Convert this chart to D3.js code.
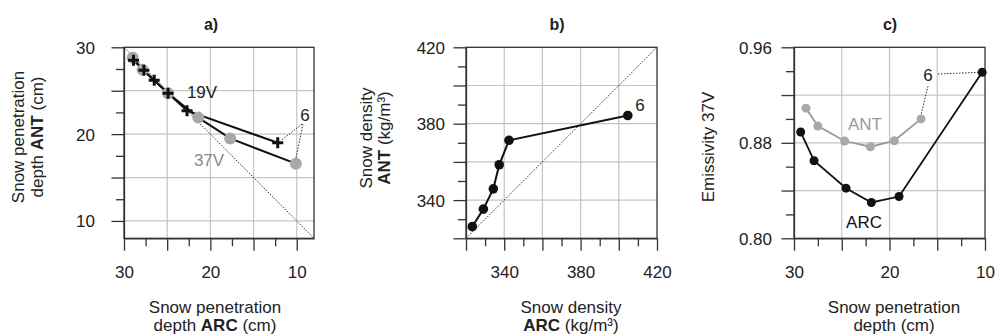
<!DOCTYPE html>
<html>
<head>
<meta charset="utf-8">
<script src="https://cdn.jsdelivr.net/npm/d3@7"></script>
<style>
body{margin:0;background:#fff;}
svg text{font-family:"Liberation Sans",Arial,sans-serif;}
</style>
</head>
<body>
<svg id="chart" width="995" height="336"></svg>
<script>
// ---- data ----
// panel a: penetration depth (cm), ARC (x) vs ANT (y)
const a19Arc = [28.9, 27.7, 26.5, 24.9, 22.7, 12.2];
const a19Ant = [28.5, 27.35, 26.2, 24.7, 22.7, 19.0];
const a37Arc = [29.0, 27.85, 24.9, 21.4, 17.7, 10.1];
const a37Ant = [28.8, 27.4, 24.7, 21.9, 19.5, 16.6];
// panel b: snow density (kg/m3)
const bArc = [323.3, 329.1, 334.3, 337.4, 342.5, 404.7];
const bAnt = [326.1, 335.3, 345.9, 358.5, 371.3, 384.3];
// panel c: emissivity 37V vs penetration depth
const cArcDepth = [29.3, 27.9, 24.55, 21.9, 19.0, 10.3];
const cArcEmis = [0.889, 0.865, 0.842, 0.830, 0.835, 0.939];
const cAntDepth = [28.75, 27.5, 24.7, 22.0, 19.5, 16.7];
const cAntEmis = [0.909, 0.894, 0.8815, 0.8767, 0.8817, 0.900];
// ticks
const aTicks = [30, 27.5, 25, 22.5, 20, 17.5, 15, 12.5, 10];
const aMajor = [30, 25, 20, 15, 10];
const aLabels = [30, 20, 10];
const bTicks = [320, 330, 340, 350, 360, 370, 380, 390, 400, 410, 420];
const bMajor = [320, 340, 360, 380, 400, 420];
const bLabels = [340, 380, 420];
const cXTicks = [30, 27.5, 25, 22.5, 20, 17.5, 15, 12.5, 10];
const cXMajor = [30, 25, 20, 15, 10];
const cXLabels = [30, 20, 10];
const cYTicks = [0.80, 0.82, 0.84, 0.86, 0.88, 0.90, 0.92, 0.94, 0.96];
const cYMajor = [0.80, 0.84, 0.88, 0.92, 0.96];
const cYLabels = [0.80, 0.88, 0.96];

const svg = d3.select("#chart");
const plotTop = 47.3, plotBottom = 238.3;
const GRID = "#c4c4c4", FRAME = "#333", GRAY = "#a8a8a8";

function panel(opt) {
  const x = d3.scaleLinear().domain(opt.xDom).range([opt.x0, opt.x1]);
  const y = d3.scaleLinear().domain(opt.yDom).range([plotBottom, plotTop]);
  const g = svg.append("g");
  g.selectAll(".gx").data(opt.xGrid).join("line")
    .attr("x1", d => x(d)).attr("x2", d => x(d)).attr("y1", plotTop).attr("y2", plotBottom)
    .attr("stroke", GRID).attr("stroke-width", 1.2);
  g.selectAll(".gy").data(opt.yGrid).join("line")
    .attr("y1", d => y(d)).attr("y2", d => y(d)).attr("x1", opt.x0).attr("x2", opt.x1)
    .attr("stroke", GRID).attr("stroke-width", 1.2);
  g.append("rect").attr("x", opt.x0).attr("y", plotTop).attr("width", opt.x1 - opt.x0).attr("height", plotBottom - plotTop)
    .attr("fill", "none").attr("stroke", FRAME).attr("stroke-width", 1.3);
  const fmtX = d => opt.xLab.includes(d) ? opt.xFmt(d) : "";
  const fmtY = d => opt.yLab.includes(d) ? opt.yFmt(d) : "";
  const isMaj = (arr, d) => arr.some(v => Math.abs(v - d) < 1e-9);
  const ax = g.append("g").attr("transform", `translate(0,${plotBottom})`)
    .call(d3.axisBottom(x).tickValues(opt.xTicks).tickFormat(fmtX).tickSizeOuter(0));
  ax.select(".domain").attr("stroke", FRAME).attr("stroke-width", 1.3);
  ax.selectAll(".tick line").attr("stroke", FRAME).attr("stroke-width", 1.3)
    .attr("y2", d => isMaj(opt.xMajor, d) ? 12.5 : 8);
  ax.selectAll(".tick text").attr("y", 39.5).attr("dy", 0)
    .attr("font-size", 17).attr("fill", "#222").attr("font-family", "Liberation Sans, Arial, sans-serif");
  const ay = g.append("g").attr("transform", `translate(${opt.x0},0)`)
    .call(d3.axisLeft(y).tickValues(opt.yTicks).tickFormat(fmtY).tickSizeOuter(0));
  ay.select(".domain").attr("stroke", FRAME).attr("stroke-width", 1.3);
  ay.selectAll(".tick line").attr("stroke", FRAME).attr("stroke-width", 1.3)
    .attr("x2", d => isMaj(opt.yMajor, d) ? -12.5 : -8);
  ay.selectAll(".tick text").attr("x", opt.yLabOff).attr("dy", "0.35em")
    .attr("font-size", 17).attr("fill", "#222").attr("font-family", "Liberation Sans, Arial, sans-serif");
  g.append("text").attr("x", opt.titleX).attr("y", 30).attr("text-anchor", "middle")
    .attr("font-size", 16).attr("font-weight", "bold").attr("fill", "#222").text(opt.title);
  return {x, y, g};
}

function textLines(g, x, ys, parts) {
  ys.forEach((yy, i) => {
    const t = g.append("text").attr("x", x).attr("y", yy).attr("text-anchor", "middle")
      .attr("font-size", 17).attr("fill", "#222");
    parts[i].forEach(p => t.append("tspan").attr("font-weight", p[1] ? "bold" : "normal").text(p[0]));
  });
}
function rotLines(g, cy, xs, parts) {
  xs.forEach((xx, i) => {
    const t = g.append("text").attr("transform", `translate(${xx},${cy}) rotate(-90)`)
      .attr("text-anchor", "middle").attr("font-size", 17).attr("fill", "#222");
    parts[i].forEach(p => t.append("tspan").attr("font-weight", p[1] ? "bold" : "normal").text(p[0]));
  });
}
const dotted = sel => sel.attr("stroke", "#333").attr("stroke-width", 1).attr("stroke-dasharray", "1.5,1.5").attr("fill", "none");
const lineGen = (sx, sy) => d3.line().x(d => sx(d[0])).y(d => sy(d[1]));

// ---------- panel a ----------
const A = panel({
  x0: 124, x1: 314, xDom: [30, 8], yDom: [8, 30],
  xGrid: [25, 20, 15, 10], yGrid: [25, 20, 15, 10],
  xTicks: aTicks, xMajor: aMajor, xLab: aLabels, xFmt: d3.format("d"),
  yTicks: aTicks, yMajor: aMajor, yLab: aLabels, yFmt: d3.format("d"),
  yLabOff: -29, title: "a)", titleX: 211
});
A.g.append("line").attr("x1", A.x(30)).attr("y1", A.y(30)).attr("x2", A.x(8)).attr("y2", A.y(8)).call(dotted);
const a37 = a37Arc.map((v, i) => [v, a37Ant[i]]);
const a19 = a19Arc.map((v, i) => [v, a19Ant[i]]);
A.g.append("path").datum(a37).attr("d", lineGen(A.x, A.y)).attr("fill", "none").attr("stroke", "#111").attr("stroke-width", 2);
A.g.append("path").datum(a19).attr("d", lineGen(A.x, A.y)).attr("fill", "none").attr("stroke", "#111").attr("stroke-width", 2);
A.g.selectAll(".c37").data(a37).join("circle").attr("cx", d => A.x(d[0])).attr("cy", d => A.y(d[1]))
  .attr("r", 6).attr("fill", GRAY);
A.g.selectAll(".p19").data(a19).join("path")
  .attr("d", d => { const cx = A.x(d[0]), cy = A.y(d[1]), s = 5.5; return `M${cx - s},${cy}H${cx + s}M${cx},${cy - s}V${cy + s}`; })
  .attr("stroke", "#111").attr("stroke-width", 3);
A.g.append("text").attr("x", 202).attr("y", 97.5).attr("text-anchor", "middle").attr("font-size", 17).attr("fill", "#222").text("19V");
A.g.append("text").attr("x", 209).attr("y", 166).attr("text-anchor", "middle").attr("font-size", 17).attr("fill", "#8a8a8a").text("37V");
A.g.append("text").attr("x", 305).attr("y", 121).attr("text-anchor", "middle").attr("font-size", 17).attr("fill", "#222").text("6");
A.g.append("line").attr("x1", 302).attr("y1", 124).attr("x2", A.x(a19Arc[5]) + 3).attr("y2", A.y(a19Ant[5]) - 2).call(dotted);
A.g.append("line").attr("x1", 303).attr("y1", 124).attr("x2", A.x(a37Arc[5])).attr("y2", A.y(a37Ant[5]) - 5).call(dotted);
textLines(A.g, 215, [313, 331], [[["Snow penetration", false]], [["depth ", false], ["ARC", true], [" (cm)", false]]]);
rotLines(A.g, 137, [24, 43], [[["Snow penetration", false]], [["depth ", false], ["ANT", true], [" (cm)", false]]]);

// ---------- panel b ----------
const B = panel({
  x0: 466, x1: 657, xDom: [320, 420], yDom: [320, 420],
  xGrid: [340, 360, 380, 400], yGrid: [340, 360, 380, 400],
  xTicks: bTicks, xMajor: bMajor, xLab: bLabels, xFmt: d3.format("d"),
  yTicks: bTicks, yMajor: bMajor, yLab: bLabels, yFmt: d3.format("d"),
  yLabOff: -21, title: "b)", titleX: 557
});
B.g.append("line").attr("x1", B.x(320)).attr("y1", B.y(320)).attr("x2", B.x(420)).attr("y2", B.y(420)).call(dotted);
const bPts = bArc.map((v, i) => [v, bAnt[i]]);
B.g.append("path").datum(bPts).attr("d", lineGen(B.x, B.y)).attr("fill", "none").attr("stroke", "#111").attr("stroke-width", 2);
B.g.selectAll(".pb").data(bPts).join("circle").attr("cx", d => B.x(d[0])).attr("cy", d => B.y(d[1])).attr("r", 4.8).attr("fill", "#111");
B.g.append("text").attr("x", 640).attr("y", 111).attr("text-anchor", "middle").attr("font-size", 17).attr("fill", "#222").text("6");
textLines(B.g, 571, [313, 331], [[["Snow density", false]], [["ARC", true], [" (kg/m³)", false]]]);
rotLines(B.g, 138, [372, 390], [[["Snow density", false]], [["ANT", true], [" (kg/m³)", false]]]);

// ---------- panel c ----------
const C = panel({
  x0: 794, x1: 985, xDom: [30, 10], yDom: [0.80, 0.96],
  xGrid: [25, 20, 15], yGrid: [0.84, 0.88, 0.92],
  xTicks: cXTicks, xMajor: cXMajor, xLab: cXLabels, xFmt: d3.format("d"),
  yTicks: cYTicks, yMajor: cYMajor, yLab: cYLabels, yFmt: d3.format(".2f"),
  yLabOff: -22, title: "c)", titleX: 890
});
const cAnt = cAntDepth.map((v, i) => [v, cAntEmis[i]]);
const cArc = cArcDepth.map((v, i) => [v, cArcEmis[i]]);
C.g.append("path").datum(cAnt).attr("d", lineGen(C.x, C.y)).attr("fill", "none").attr("stroke", "#999").attr("stroke-width", 1.8);
C.g.selectAll(".pca").data(cAnt).join("circle").attr("cx", d => C.x(d[0])).attr("cy", d => C.y(d[1])).attr("r", 4.5).attr("fill", GRAY);
C.g.append("path").datum(cArc).attr("d", lineGen(C.x, C.y)).attr("fill", "none").attr("stroke", "#111").attr("stroke-width", 1.8);
C.g.selectAll(".pcr").data(cArc).join("circle").attr("cx", d => C.x(d[0])).attr("cy", d => C.y(d[1])).attr("r", 4.5).attr("fill", "#111");
C.g.append("text").attr("x", 928).attr("y", 81).attr("text-anchor", "middle").attr("font-size", 17).attr("fill", "#222").text("6");
C.g.append("line").attr("x1", 938).attr("y1", 74).attr("x2", C.x(cArcDepth[5]) - 4).attr("y2", C.y(cArcEmis[5])).call(dotted);
C.g.append("line").attr("x1", 928).attr("y1", 86).attr("x2", C.x(cAntDepth[5])).attr("y2", C.y(cAntEmis[5]) - 4).call(dotted);
C.g.append("text").attr("x", 865).attr("y", 130).attr("text-anchor", "middle").attr("font-size", 17).attr("fill", "#999").text("ANT");
C.g.append("text").attr("x", 864).attr("y", 228).attr("text-anchor", "middle").attr("font-size", 17).attr("fill", "#111").text("ARC");
textLines(C.g, 894, [313, 331], [[["Snow penetration", false]], [["depth (cm)", false]]]);
rotLines(C.g, 147, [714], [[["Emissivity 37V", false]]]);
</script>
</body>
</html>
